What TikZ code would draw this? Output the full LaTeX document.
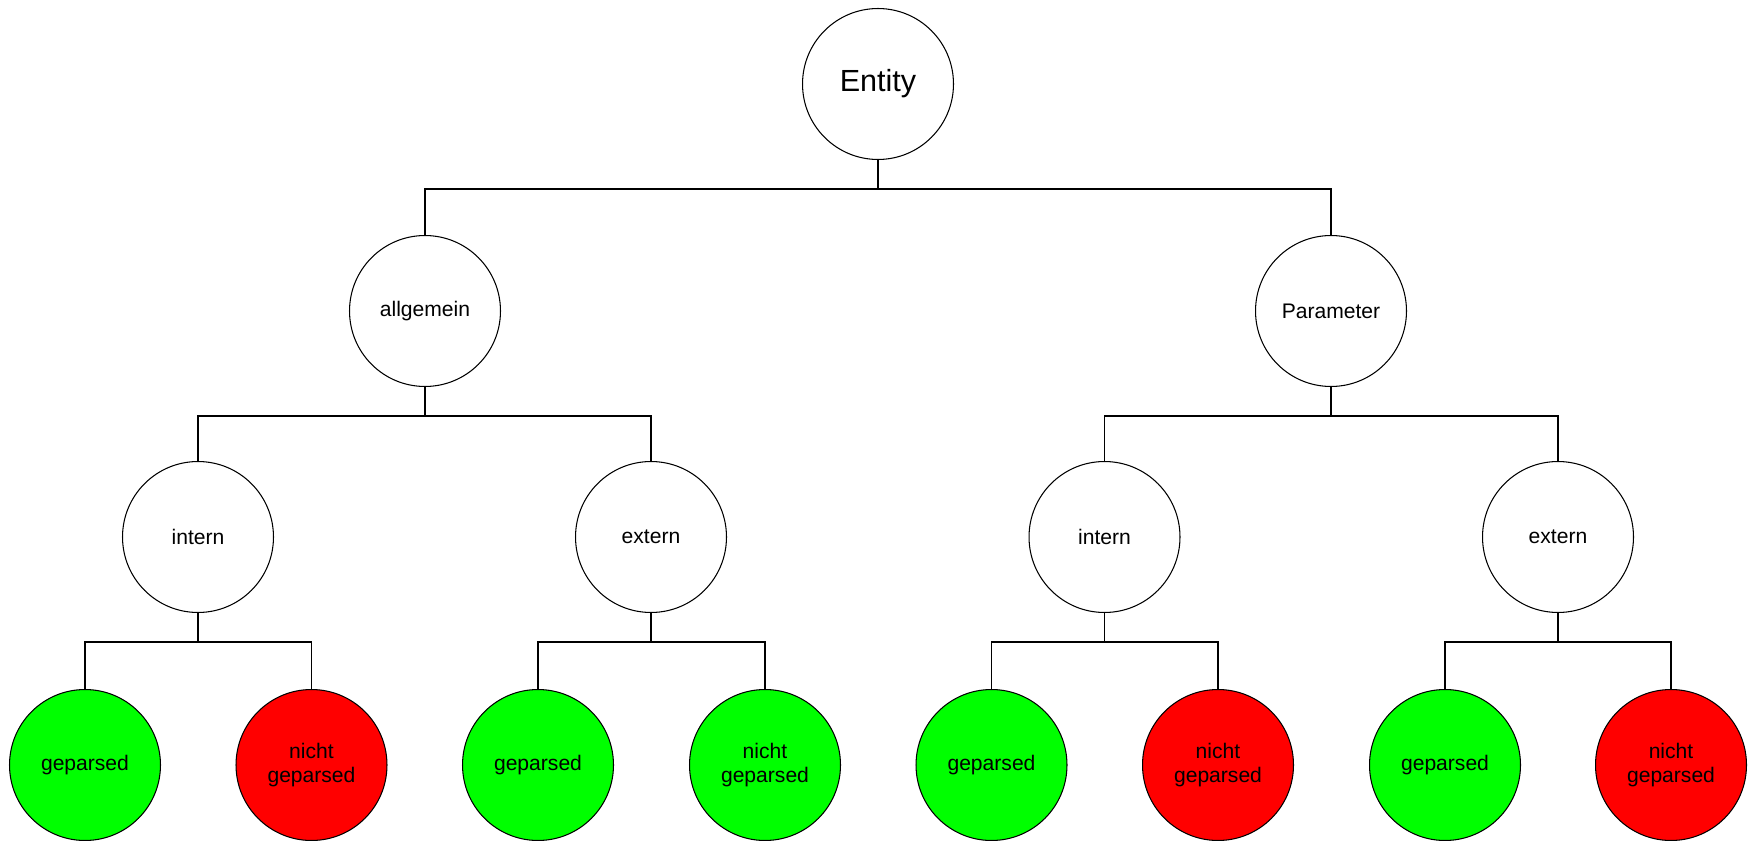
\documentclass[tikz,border=0pt]{standalone}
\usepackage{fontspec}
\setmainfont{Liberation Sans}
\usetikzlibrary{calc}
\definecolor{okgreen}{RGB}{0,255,0}
\definecolor{failred}{RGB}{255,0,0}
\tikzstyle{vertex}=[circle,draw,fill=white,minimum size=3.02cm,inner sep=0pt,line width=0.6pt,align=center,font=\fontsize{12}{13.4}\selectfont]
\tikzstyle{rootvertex}=[vertex,font=\fontsize{17.4}{20}\selectfont]
\tikzstyle{okvertex}=[vertex,fill=okgreen]
\tikzstyle{failvertex}=[vertex,fill=failred]
\tikzstyle{branch} = [draw,line width=0.6pt]

\begin{document}
\begin{tikzpicture}[x=0.02cm,y=-0.02cm]
    \useasboundingbox (0,0) rectangle (1751,841);

    \node[rootvertex] (ent) at (878,84) {Entity};

    \foreach \pos/\name/\lbl in {{(425,311)/allg/allgemein}, {(1331,311)/param/Parameter},
        {(198,537)/ai/intern}, {(651,537)/ae/extern}, {(1104.5,537)/pi/intern}, {(1558,537)/pe/extern}}
        \node[vertex] (\name) at \pos {\lbl};

    % leaves: geparsed / nicht geparsed
    \foreach \pos/\name/\kind/\lbl in {{(85,765)/aig/ok/geparsed}, {(311.5,765)/ain/fail/nicht\\geparsed},
        {(538,765)/aeg/ok/geparsed}, {(765,765)/aen/ok/nicht\\geparsed},
        {(991.5,765)/pig/ok/geparsed}, {(1218,765)/pin/fail/nicht\\geparsed},
        {(1445,765)/peg/ok/geparsed}, {(1671,765)/pen/fail/nicht\\geparsed}}
        \node[\kind vertex] (\name) at \pos {\lbl};

    % Connect parents with children
    \foreach \source/ \dest in {ent/allg, ent/param, allg/ai, allg/ae, param/pi, param/pe,
        ai/aig, ai/ain, ae/aeg, ae/aen, pi/pig, pi/pin, pe/peg, pe/pen}
        \path[branch] (\source.south) -- ++(0,29) -| (\dest.north);
\end{tikzpicture}
\end{document}
